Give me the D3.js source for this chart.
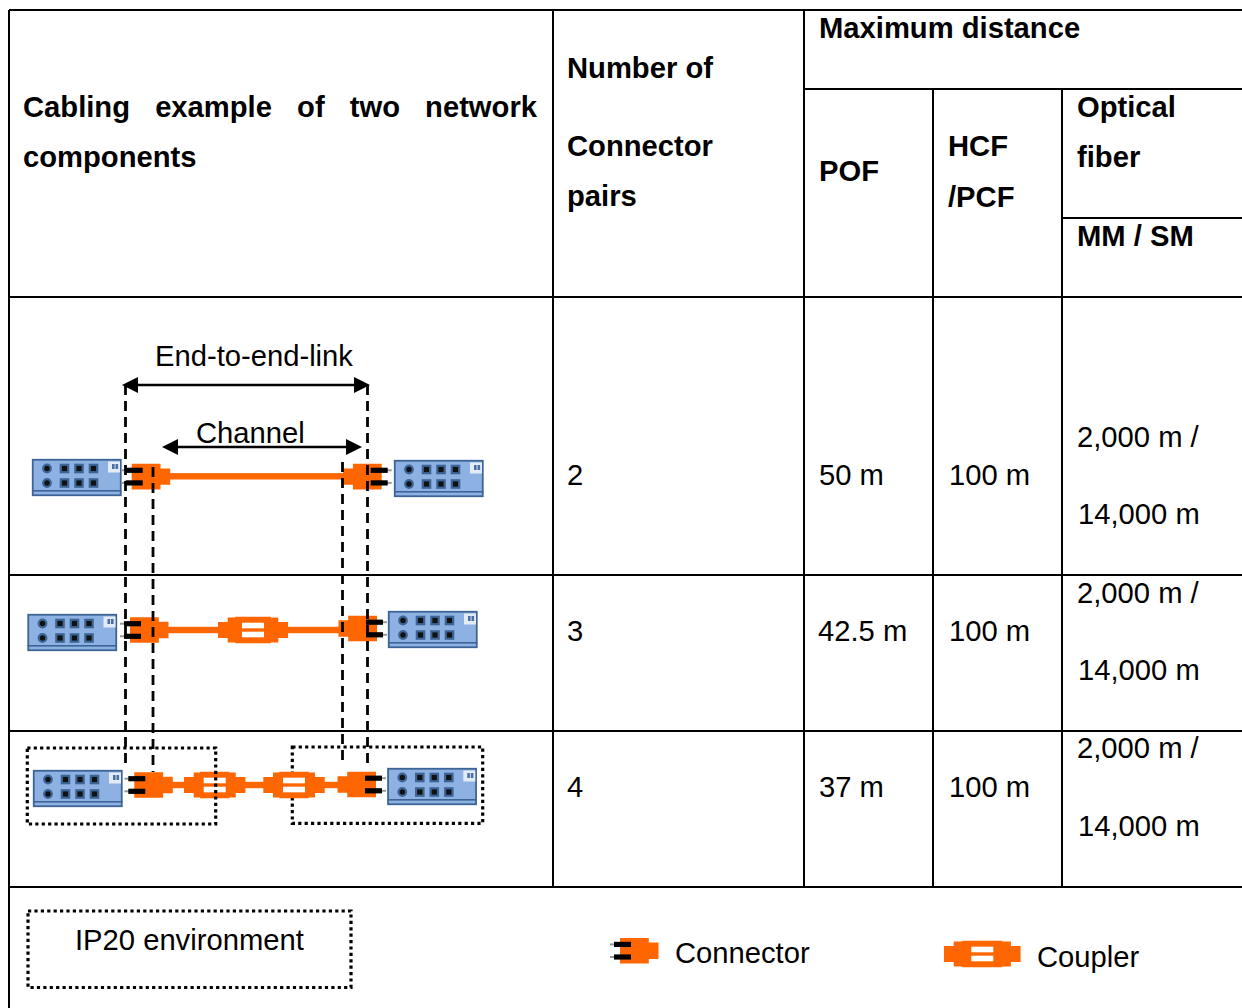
<!DOCTYPE html>
<html>
<head>
<meta charset="utf-8">
<script src="https://cdn.jsdelivr.net/npm/d3@7.9.0/dist/d3.min.js"></script>
<style>
  html, body { margin: 0; padding: 0; background: #fff; }
  svg { display: block; }
  text { font-family: "Liberation Sans", Arial, sans-serif; font-size: 29.2px; fill: #000; }
  text.bold { font-weight: 700; }
</style>
</head>
<body>
<svg id="chart" width="1242" height="1008"></svg>
<script>
// table content
const connectorPairs = ['2', '3', '4'];
const pofDistance = ['50 m', '42.5 m', '37 m'];
const hcfDistance = ['100 m', '100 m', '100 m'];
const fiberDistanceMM = ['2,000 m /', '2,000 m /', '2,000 m /'];
const fiberDistanceSM = ['14,000 m', '14,000 m', '14,000 m'];
const headerFirstColumn = ['Cabling example of two network', 'components'];
const headerPairs = ['Number of', 'Connector', 'pairs'];
const headerDistance = 'Maximum distance';
const headerFiber = ['Optical', 'fiber'];
const headerHcf = ['HCF', '/PCF'];
const legendLabels = ['IP20 environment', 'Connector', 'Coupler'];
const linkLabels = ['End-to-end-link', 'Channel'];

const ORANGE = '#ff6600';
const BLUE = '#8db1e2';
const BLUE_DARK = '#3c6595';

const svg = d3.select('#chart');
svg.append('rect').attr('width', 1242).attr('height', 1008).attr('fill', '#fff');

// table grid
const colX = [9, 553, 804, 933, 1062, 1242];
const rowY = [10, 297, 575, 731, 887];
const gridLines = [
  [colX[0], rowY[0], colX[5], rowY[0]],
  [colX[2], 89, colX[5], 89],
  [colX[4], 218, colX[5], 218],
  [colX[0], rowY[1], colX[5], rowY[1]],
  [colX[0], rowY[2], colX[5], rowY[2]],
  [colX[0], rowY[3], colX[5], rowY[3]],
  [colX[0], rowY[4], colX[5], rowY[4]],
  [colX[0], rowY[0], colX[0], 1008],
  [colX[1], rowY[0], colX[1], rowY[4]],
  [colX[2], rowY[0], colX[2], rowY[4]],
  [colX[3], 89, colX[3], rowY[4]],
  [colX[4], 89, colX[4], rowY[4]],
];
svg.append('g').selectAll('line').data(gridLines).join('line')
  .attr('x1', d => d[0]).attr('y1', d => d[1])
  .attr('x2', d => d[2]).attr('y2', d => d[3])
  .attr('stroke', '#000').attr('stroke-width', 2);

function label(x, y, str, bold) {
  return svg.append('text').attr('x', x).attr('y', y)
    .attr('class', bold ? 'bold' : null).text(str);
}

// header text
label(23, 117, headerFirstColumn[0], true).attr('word-spacing', 17);
label(23, 167, headerFirstColumn[1], true);
[78, 156, 206].forEach((y, i) => label(567, y, headerPairs[i], true));
label(819, 38, headerDistance, true);
label(819, 181, 'POF', true);
[156, 207].forEach((y, i) => label(948, y, headerHcf[i], true));
[117, 167].forEach((y, i) => label(1077, y, headerFiber[i], true));
label(1077, 246, 'MM / SM', true);

// body rows
const rowBaseline = [485, 641, 797];
const mmBaseline = [447, 603, 758];
const smBaseline = [524, 680, 836];
connectorPairs.forEach((v, i) => {
  label(567, rowBaseline[i], v);
  label(i === 1 ? 818 : 819, rowBaseline[i], pofDistance[i]);
  label(949, rowBaseline[i], hcfDistance[i]);
  label(1077, mmBaseline[i], fiberDistanceMM[i]);
  label(1078, smBaseline[i], fiberDistanceSM[i]);
});

// symbols
function drawDevice(x, y) {
  const g = svg.append('g').attr('transform', `translate(${x},${y})`);
  g.append('rect').attr('x', 0.75).attr('y', 0.75).attr('width', 88).attr('height', 35.5)
    .attr('fill', BLUE).attr('stroke', BLUE_DARK).attr('stroke-width', 1.8);
  g.append('rect').attr('x', 0).attr('y', 31).attr('width', 89.5).attr('height', 1.6).attr('fill', BLUE_DARK);
  g.append('rect').attr('x', 76).attr('y', 2.5).attr('width', 12).attr('height', 11).attr('fill', '#e3ebf6');
  g.selectAll('rect.tick').data([80, 83.5]).join('rect').attr('class', 'tick')
    .attr('x', d => d).attr('y', 5).attr('width', 2.6).attr('height', 5).attr('fill', '#4a70a5');
  [9.5, 24].forEach(cy => {
    g.append('circle').attr('cx', 15).attr('cy', cy).attr('r', 3.8)
      .attr('fill', '#111').attr('stroke', BLUE_DARK).attr('stroke-width', 2.2);
    [32.5, 47, 61.5].forEach(sx => {
      g.append('rect').attr('x', sx - 3.7).attr('y', cy - 3.7).attr('width', 7.4).attr('height', 7.4)
        .attr('fill', '#111').attr('stroke', BLUE_DARK).attr('stroke-width', 2.2);
    });
  });
}

// x is the body edge on the plug side, dir 1 = plug to the left, -1 = plug to the right
function drawConnector(x, cy, dir) {
  const g = svg.append('g').attr('transform', `translate(${x},${cy}) scale(${dir},1)`);
  const outline = [[0, -12.8], [28.8, -12.8], [28.8, -8.2], [38.5, -8.2], [38.5, 8.2], [28.8, 8.2], [28.8, 12.8], [0, 12.8]];
  g.append('path').attr('d', d3.line()(outline) + 'Z').attr('fill', ORANGE);
  [-6.3, 6.3].forEach(py => {
    g.append('rect').attr('x', -10).attr('y', py - 1).attr('width', 5).attr('height', 2).attr('fill', '#999');
    g.append('rect').attr('x', -6).attr('y', py - 2.6).attr('width', 17).attr('height', 5.2).attr('fill', '#000');
  });
}

function drawCoupler(cx, cy, halfW) {
  const g = svg.append('g').attr('transform', `translate(${cx},${cy})`);
  const b = halfW - 9.7;
  const outline = [[-halfW, -8], [-b, -8], [-b, -12.4], [-b * 0.7, -12.4], [-b * 0.7, -13.2], [b * 0.7, -13.2], [b * 0.7, -12.4], [b, -12.4], [b, -8], [halfW, -8],
    [halfW, 8], [b, 8], [b, 12.4], [b * 0.7, 12.4], [b * 0.7, 13.2], [-b * 0.7, 13.2], [-b * 0.7, 12.4], [-b, 12.4], [-b, 8], [-halfW, 8]];
  g.append('path').attr('d', d3.line()(outline) + 'Z').attr('fill', ORANGE);
  [-7.3, 1.7].forEach(y => {
    g.append('rect').attr('x', -11).attr('y', y).attr('width', 22).attr('height', 5.6).attr('fill', '#fff');
  });
}

function drawCable(x1, x2, cy) {
  svg.append('rect').attr('x', x1).attr('y', cy - 3.2).attr('width', x2 - x1).attr('height', 6.4).attr('fill', ORANGE);
}

function dottedBox(x, y, w, h) {
  svg.append('rect').attr('x', x).attr('y', y).attr('width', w).attr('height', h)
    .attr('fill', 'none').attr('stroke', '#000').attr('stroke-width', 3.2)
    .attr('stroke-dasharray', '3.2 3.2');
}

// row 1
drawDevice(32, 459);
drawDevice(394, 460);
drawCable(165, 348, 476.3);
drawConnector(131.7, 476.6, 1);
drawConnector(381.7, 476.6, -1);

// row 2
drawDevice(27.5, 614);
drawDevice(388, 611);
drawCable(165, 225, 630);
drawCable(280, 345, 630);
drawConnector(130, 630, 1);
drawConnector(377, 628.5, -1);
drawCoupler(253, 630, 35);

// row 3
dottedBox(292.3, 747, 190.4, 76.3);
drawDevice(33, 770);
drawDevice(387.3, 768);
drawCable(170, 190, 785);
drawCable(240, 270, 785);
drawCable(318, 342, 785);
drawConnector(134.3, 785, 1);
drawConnector(376, 784.5, -1);
drawCoupler(214.7, 785, 30.7);
drawCoupler(294, 785, 30.7);
dottedBox(27.3, 748, 188.4, 76);

// dashed guides
const guides = [[125.5, 385, 767], [153, 467, 772], [342.5, 462, 765], [367.5, 385, 767]];
svg.append('g').selectAll('line').data(guides).join('line')
  .attr('x1', d => d[0]).attr('x2', d => d[0])
  .attr('y1', d => d[1]).attr('y2', d => d[2])
  .attr('stroke', '#000').attr('stroke-width', 2.8).attr('stroke-dasharray', '10 6');

// double arrows
function doubleArrow(x1, x2, y) {
  svg.append('line').attr('x1', x1 + 8).attr('x2', x2 - 8).attr('y1', y).attr('y2', y)
    .attr('stroke', '#000').attr('stroke-width', 2.4);
  const head = d3.line();
  svg.append('path').attr('d', head([[x1, y], [x1 + 16, y - 8], [x1 + 16, y + 8]]) + 'Z');
  svg.append('path').attr('d', head([[x2, y], [x2 - 16, y - 8], [x2 - 16, y + 8]]) + 'Z');
}
doubleArrow(122, 370, 385);
doubleArrow(162, 362, 447);
label(155, 366, linkLabels[0]);
label(196, 443, linkLabels[1]);

// legend row
dottedBox(28, 911, 323, 76.5);
label(75, 950, legendLabels[0]);
drawConnector(620, 950.7, 1);
label(675, 963, legendLabels[1]);
drawCoupler(982.3, 954, 38.3);
label(1037, 967, legendLabels[2]);
</script>
</body>
</html>
